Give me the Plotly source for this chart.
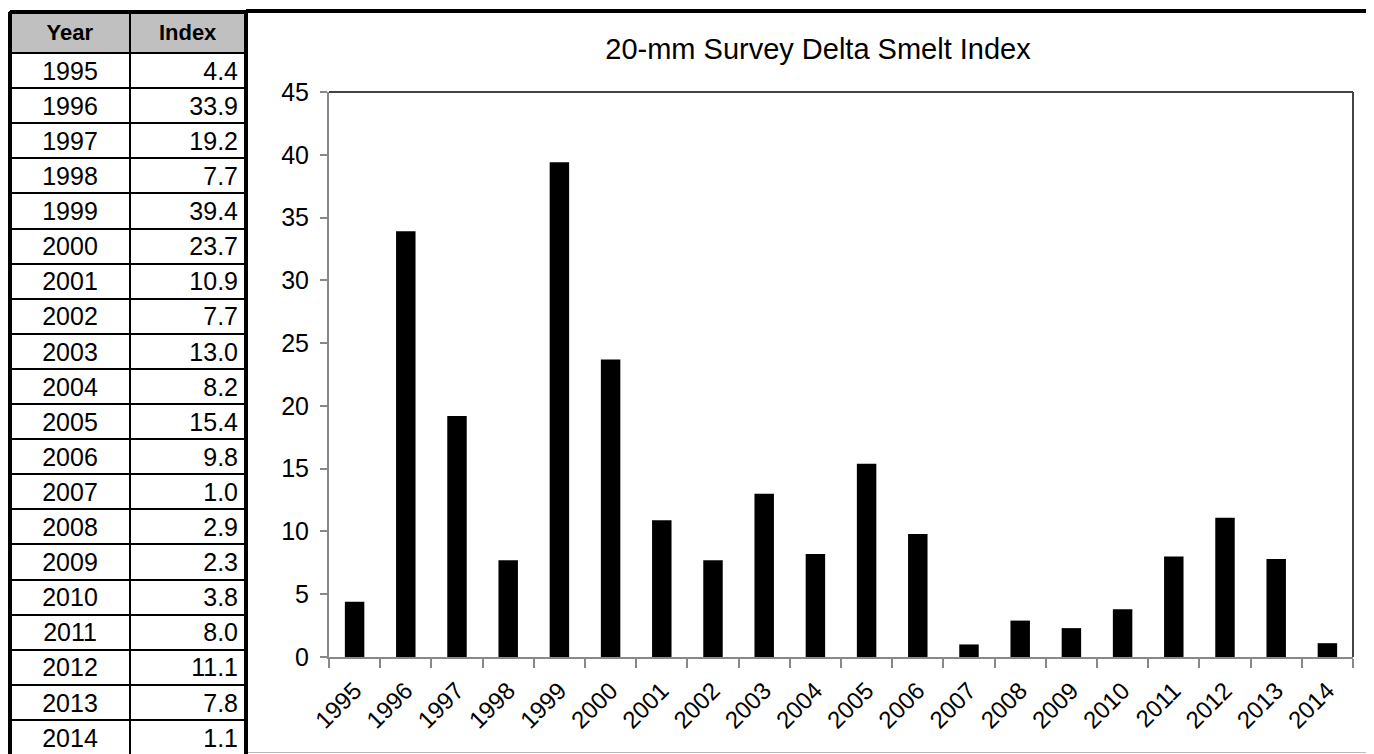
import plotly.graph_objects as go

years = [str(y) for y in range(1995, 2015)]
index_values = [4.4, 33.9, 19.2, 7.7, 39.4, 23.7, 10.9, 7.7, 13.0, 8.2,
                15.4, 9.8, 1.0, 2.9, 2.3, 3.8, 8.0, 11.1, 7.8, 1.1]
index_labels = [f"{v:.1f}" for v in index_values]
header_labels = ["Year", "Index"]
title_text = "20-mm Survey Delta Smelt Index"
y_ticks = [0, 5, 10, 15, 20, 25, 30, 35, 40, 45]

# The page body adds an 8 px offset; work in screen pixels and convert.
OFF = 8
W, H = 1374 - OFF, 754 - OFF
FONT = "Liberation Sans, Arial, sans-serif"


def px(x):
    return (x - OFF) / W


def py(y):
    return 1 - (y - OFF) / H


fig = go.Figure()

# Data table on the left
fig.add_trace(go.Table(
    domain=dict(x=[px(10), px(246)], y=[0, py(12)]),
    columnwidth=[120, 116],
    header=dict(values=[f"<b>{h}</b>" for h in header_labels],
                fill_color="#c0c0c0", line=dict(color="black", width=2),
                align="center", height=38,
                font=dict(family=FONT, size=22, color="black")),
    cells=dict(values=[years, index_labels],
               fill_color="white", line=dict(color="black", width=2),
               align=["center", "right"], height=35.1,
               font=dict(family=FONT, size=25, color="black")),
))

# Bar chart
fig.add_trace(go.Bar(x=years, y=index_values, marker=dict(color="black", line=dict(width=0)),
                     width=0.38, xaxis="x", yaxis="y", showlegend=False))

fig.update_layout(
    width=W, height=H,
    margin=dict(l=0, r=0, t=0, b=0, autoexpand=False),
    paper_bgcolor="white", plot_bgcolor="white",
    showlegend=False,
    title=dict(text=title_text, x=px(818), xanchor="center", xref="paper",
               y=py(49), yref="container", yanchor="middle",
               font=dict(family=FONT, size=29, color="black")),
    xaxis=dict(domain=[px(329), px(1353)], type="category", automargin=False,
               tickangle=-45, tickson="boundaries", ticklabelstandoff=8,
               ticks="outside", ticklen=9, tickcolor="#888", tickwidth=2,
               showline=True, linecolor="#888", linewidth=2,
               showgrid=False, zeroline=False,
               tickfont=dict(family=FONT, size=24, color="black")),
    yaxis=dict(domain=[py(657), py(92)], range=[0, 45], automargin=False,
               tickvals=y_ticks, ticks="outside", ticklen=7, tickcolor="#888", tickwidth=2,
               ticklabelstandoff=6,
               showline=True, linecolor="#888", linewidth=2,
               showgrid=False, zeroline=False,
               tickfont=dict(family=FONT, size=25, color="black")),
    shapes=[
        # plot area top and right border
        dict(type="line", xref="x domain", yref="y domain", x0=0, x1=1, y0=1, y1=1,
             line=dict(color="#444", width=2)),
        dict(type="line", xref="x domain", yref="y domain", x0=1, x1=1, y0=0, y1=1,
             line=dict(color="#444", width=2)),
        # outer frame lines
        dict(type="line", xref="paper", yref="paper", x0=px(246), x1=1, y0=py(11), y1=py(11),
             line=dict(color="black", width=4)),
        dict(type="line", xref="paper", yref="paper", x0=px(246), x1=px(246), y0=0, y1=py(11),
             line=dict(color="black", width=4)),
        dict(type="line", xref="paper", yref="paper", x0=px(10), x1=px(10), y0=0, y1=py(12),
             line=dict(color="black", width=4)),
        dict(type="line", xref="paper", yref="paper", x0=px(10), x1=px(246), y0=py(12), y1=py(12),
             line=dict(color="black", width=4)),
        dict(type="line", xref="paper", yref="paper", x0=px(248), x1=1, y0=py(752.5), y1=py(752.5),
             line=dict(color="#bbb", width=1)),
    ],
)

fig.write_html("out.html")
